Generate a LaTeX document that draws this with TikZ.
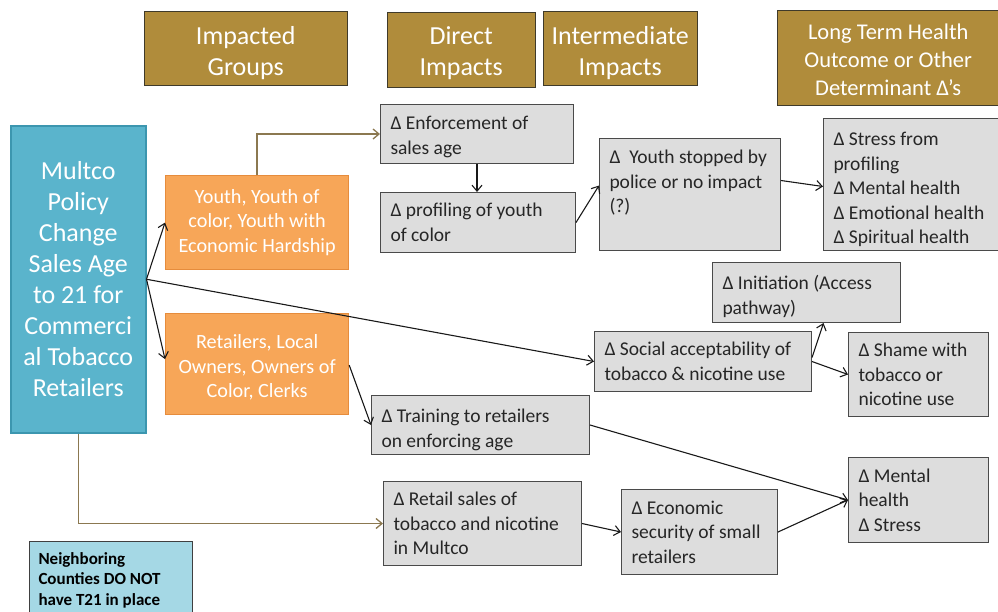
\documentclass[tikz,border=0pt]{standalone}
\usepackage{fontspec}
\setmainfont{Carlito}
\usetikzlibrary{arrows.meta}

\definecolor{hdrgold}{HTML}{B08C3B}
\definecolor{hdredge}{HTML}{3F3A2A}
\definecolor{policyteal}{HTML}{5AB4CC}
\definecolor{policyedge}{HTML}{3C96AF}
\definecolor{grouporange}{HTML}{F7A658}
\definecolor{groupedge}{HTML}{E68C3C}
\definecolor{impactgray}{HTML}{DDDDDD}
\definecolor{impactedge}{HTML}{4A4A4A}
\definecolor{noteblue}{HTML}{A5D8E5}
\definecolor{linkbrown}{HTML}{8B7850}

\tikzset{
  header/.style={draw=hdredge,fill=hdrgold,text=white,align=center,anchor=north west,
    font=\fontsize{26}{31}\selectfont,inner sep=0pt},
  policy/.style={draw=policyedge,line width=1.5pt,fill=policyteal,text=white,align=center,
    anchor=north west,font=\fontsize{26}{31}\selectfont,inner sep=0pt},
  group/.style={draw=groupedge,line width=1.2pt,fill=grouporange,text=white,align=center,
    anchor=north west,font=\fontsize{20.2}{24.5}\selectfont,inner sep=0pt},
  impact/.style={draw=impactedge,line width=1pt,fill=impactgray,text=black!85,align=flush left,
    anchor=north west,font=\fontsize{19.5}{24.5}\selectfont,inner xsep=10pt,inner ysep=0pt},
  note/.style={draw=black!75,line width=1pt,fill=noteblue,align=flush left,anchor=north west,
    font=\fontsize{17}{20.5}\selectfont\bfseries,inner xsep=9pt,inner ysep=11pt,text width=145pt},
  arr/.style={-{Straight Barb[length=6pt,width=10pt]},line width=1.1pt,black!90},
  brownarr/.style={-{Straight Barb[length=6pt,width=10pt]},line width=1.3pt,linkbrown}
}

\begin{document}
\begin{tikzpicture}[x=1pt,y=-1pt]
\useasboundingbox (0,0) rectangle (998,611);

% column headings
\node[header,minimum width=203pt,minimum height=74pt,text height=64pt,text depth=10pt] (hgroups) at (144,11) {Impacted\\Groups};
\node[header,minimum width=148pt,minimum height=75pt,text height=63pt,text depth=12pt] (hdirect) at (387,12) {Direct\\Impacts};
\node[header,minimum width=154pt,minimum height=74pt,text height=64pt,text depth=10pt] (hinter) at (543,11) {Intermediate\\Impacts};
\node[header,minimum width=222pt,minimum height=95pt,text height=85pt,text depth=10pt,font=\fontsize{22.5}{28}\selectfont] (hlong) at (777,10) {Long Term Health\\Outcome or Other\\Determinant Δ’s};

% policy and groups
\node[policy,minimum width=135pt,minimum height=307pt] (pol) at (10,125) {Multco\\Policy\\Change\\Sales Age\\to 21 for\\Commerci\\al Tobacco\\Retailers};
\node[group,minimum width=183pt,minimum height=94pt] (youth) at (165,175) {Youth, Youth of\\color, Youth with\\Economic Hardship};
\node[group,minimum width=183pt,minimum height=101pt,text height=84pt,text depth=17pt] (retl) at (165,313) {Retailers, Local\\Owners, Owners of\\Color, Clerks};

% impacts
\node[impact,text width=173pt,minimum height=59pt,text height=25pt,text depth=34pt] (enf) at (380,104) {Δ Enforcement of\\sales age};
\node[impact,text width=175pt,minimum height=60pt] (prof) at (380,192) {Δ profiling of youth\\of color};
\node[impact,text width=161pt,minimum height=112pt,text height=25pt,text depth=87pt] (stop) at (599,138) {Δ\ \ Youth stopped by\\police or no impact\\(?)};
\node[impact,text width=162pt,minimum height=132pt,text height=27pt,text depth=105pt] (ltstress) at (823,118) {Δ Stress from\\profiling\\Δ Mental health\\Δ Emotional health\\Δ Spiritual health};
\node[impact,text width=168pt,minimum height=60pt,text height=27pt,text depth=33pt] (init) at (712,262) {Δ Initiation (Access\\pathway)};
\node[impact,text width=197pt,minimum height=60pt] (social) at (594,331) {Δ Social acceptability of\\tobacco \& nicotine use};
\node[impact,text width=120pt,minimum height=84pt] (shame) at (848,332) {Δ Shame with\\tobacco or\\nicotine use};
\node[impact,text width=198pt,minimum height=59pt,text height=27pt,text depth=32pt] (train) at (371,395) {Δ Training to retailers\\on enforcing age};
\node[impact,text width=120pt,minimum height=85pt] (mental) at (848,457) {Δ Mental\\health\\Δ Stress};
\node[impact,text width=178pt,minimum height=84pt] (rsales) at (383,481) {Δ Retail sales of\\tobacco and nicotine\\in Multco};
\node[impact,text width=136pt,minimum height=85pt] (econ) at (621,489) {Δ Economic\\security of small\\retailers};

\node[note] (nbr) at (29,541) {Neighboring\\Counties DO NOT\\have T21 in place};

% links
\draw[arr] (pol.east) -- (youth.west);
\draw[arr] (pol.east) -- ([yshift=5pt]retl.west);
\draw[arr] (pol.east) -- (social.west);
\draw[brownarr] (youth.north) |- (enf.west);
\draw[brownarr] (pol.south) |- (rsales.west);
\draw[arr] (enf.south) -- (enf.south |- prof.north);
\draw[arr] (prof.east) -- ([yshift=9pt]stop.west);
\draw[arr] ([yshift=14pt]stop.east) -- ([yshift=-2pt]ltstress.west);
\draw[arr] ([yshift=4pt]social.east) -- ([xshift=17pt]init.south);
\draw[arr] (social.east) -- (shame.west);
\draw[arr] ([yshift=-1pt]retl.east) -- (train.west);
\draw[arr] (train.east) -- (mental.west);
\draw[arr] (rsales.east) -- (econ.west);
\draw[arr] (econ.east) -- (mental.west);
\end{tikzpicture}
\end{document}
